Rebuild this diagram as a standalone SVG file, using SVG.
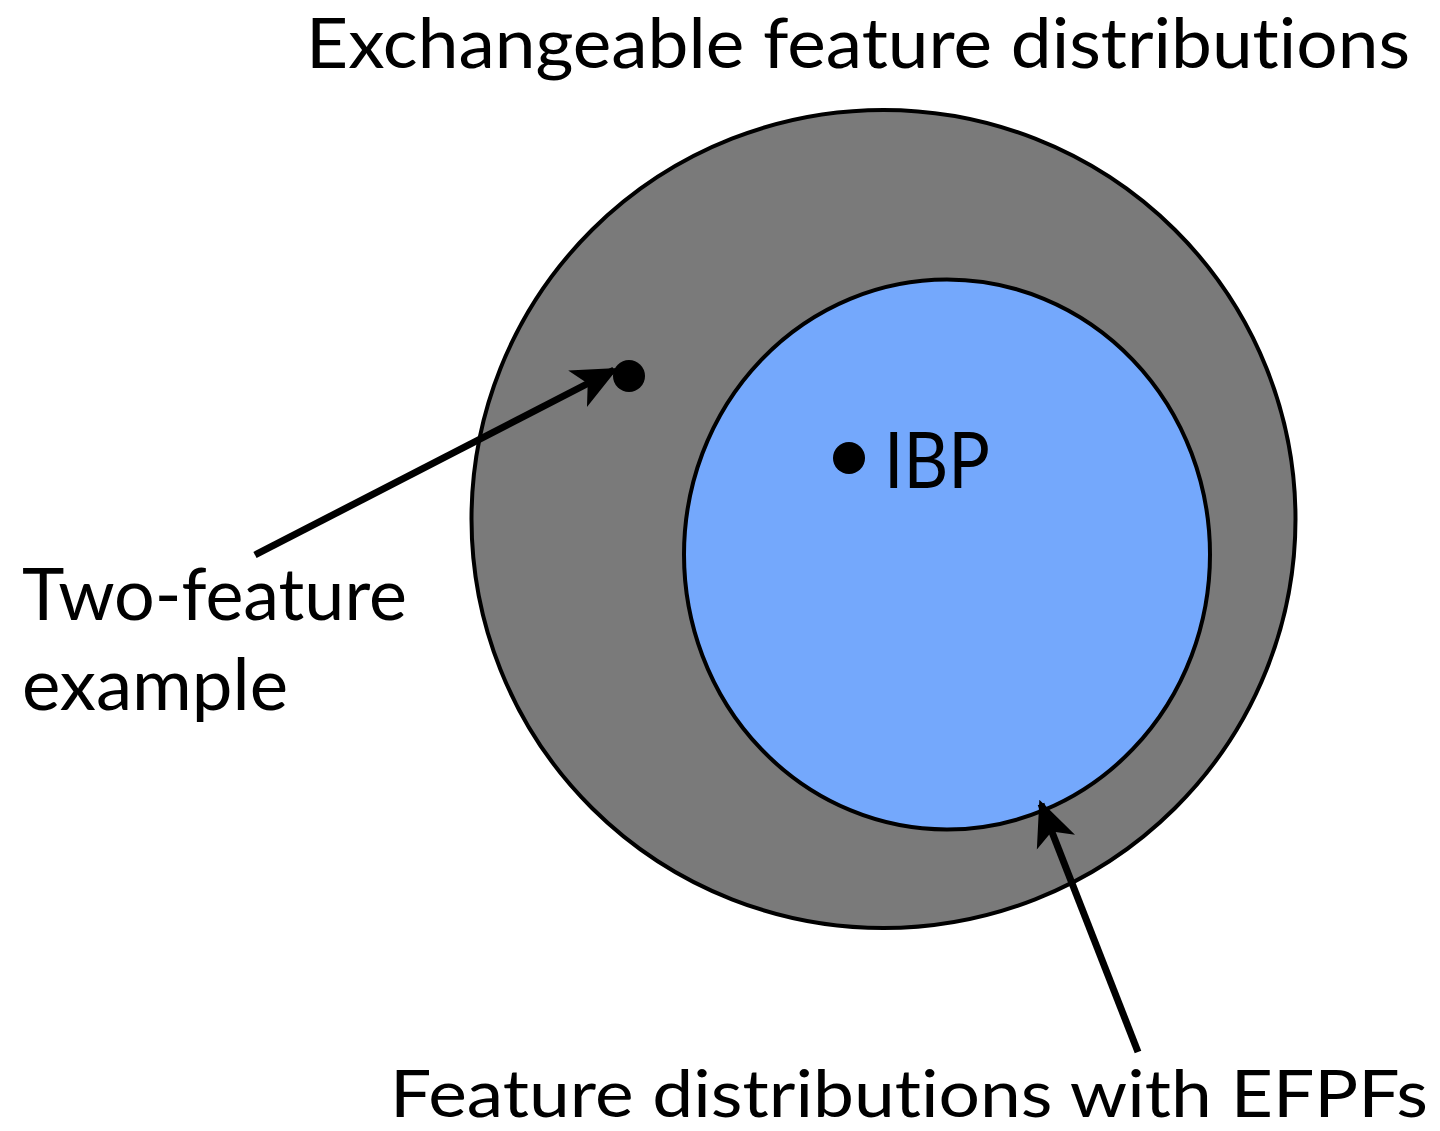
<svg xmlns="http://www.w3.org/2000/svg" width="1440" height="1131" viewBox="0 0 1440 1131">
<style>
.t{font-family:"Lato","Noto Sans",sans-serif;fill:#000;font-variant-ligatures:none;font-feature-settings:"liga" 0}
.conn{stroke:#000;stroke-width:7;fill:none}
</style>
<defs>
<marker id="ah" viewBox="0 0 10 10" refX="9" refY="5" markerWidth="6.5" markerHeight="6.5" markerUnits="strokeWidth" orient="auto">
<path d="M0,0.5 L10,5 L0,9.5 L2.5,5 Z" fill="#000"/>
</marker>
</defs>
<rect width="1440" height="1131" fill="#fff"/>
<g id="outer"><ellipse cx="883.5" cy="519" rx="412" ry="409" fill="#7a7a7a" stroke="#000" stroke-width="4"/></g>
<g id="inner"><ellipse cx="947" cy="554.5" rx="263" ry="275" fill="#74a8fc" stroke="#000" stroke-width="4"/></g>
<g id="two-feature-dot"><circle cx="629" cy="376" r="16" fill="#000"/></g>
<g id="ibp"><circle cx="849" cy="458" r="16" fill="#000"/><text class="t" x="884" y="488" font-size="78" textLength="106" lengthAdjust="spacingAndGlyphs">IBP</text></g>
<g id="title"><text class="t" x="306" y="68" font-size="70" textLength="1104" lengthAdjust="spacingAndGlyphs">Exchangeable feature distributions</text></g>
<g id="two-feature-label"><text class="t" x="22" y="620" font-size="72" textLength="385" lengthAdjust="spacingAndGlyphs">Two-feature</text><text class="t" x="22" y="710" font-size="72" textLength="266" lengthAdjust="spacingAndGlyphs">example</text></g>
<g id="efpf-label"><text class="t" x="390" y="1117" font-size="66" textLength="1038" lengthAdjust="spacingAndGlyphs">Feature distributions with EFPFs</text></g>
<g id="connectors">
<line class="conn" x1="255" y1="555" x2="614" y2="370" marker-end="url(#ah)"/>
<line class="conn" x1="1138" y1="1052" x2="1041" y2="804" marker-end="url(#ah)"/>
</g>
</svg>
